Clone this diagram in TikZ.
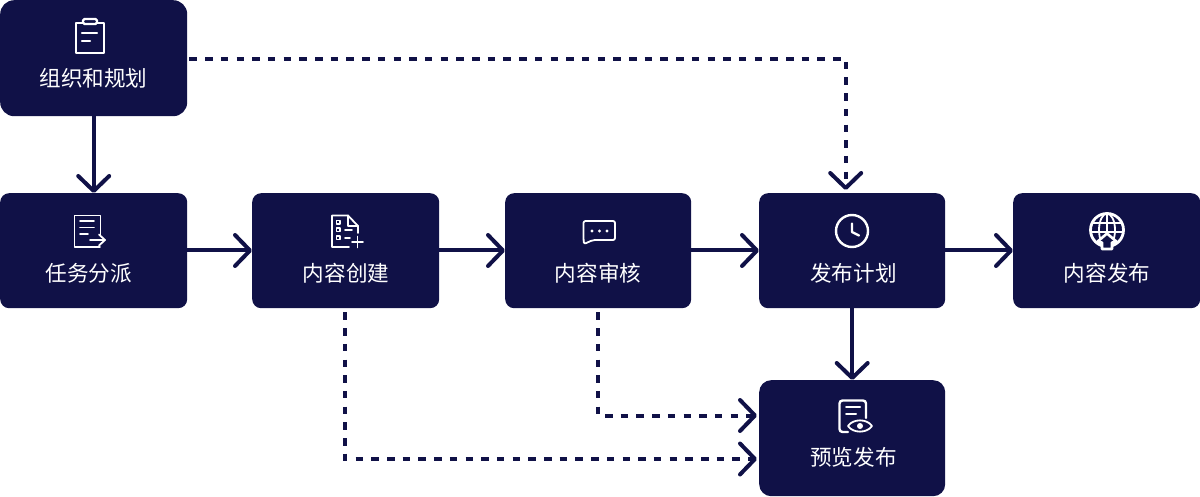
\documentclass[tikz,border=0pt]{standalone}
\usepackage{fontspec}
\setmainfont{Noto Sans CJK SC}
\usetikzlibrary{arrows.meta,calc}
\definecolor{navy}{HTML}{101147}
\tikzset{
  x=1pt,y=-1pt,
  box/.style={fill=navy,draw=none,rounded corners=#1,inner sep=0pt,anchor=north west},
  box/.default=9pt,
  lbl/.style={text=white,inner sep=0pt,font=\fontsize{21.6}{21.6}\selectfont},
  link/.style={draw=navy,line width=4pt,-{Straight Barb[length=15pt,width=31pt,line width=4pt,round]}},
  dlink/.style={link,line width=4pt,dash pattern=on 7.5pt off 8.2pt},
  ico/.style={draw=white,line width=1.8pt,line cap=round,line join=round},
  icob/.style={draw=white,line width=2.4pt,line cap=round,line join=round},
}
\begin{document}
\begin{tikzpicture}
\useasboundingbox (0,0) rectangle (1200,497);
% boxes
\node[box=14pt,minimum width=187pt,minimum height=116pt] (org) at (0,0) {};
\node[box,minimum width=187pt,minimum height=115pt] (task) at (0,193) {};
\node[box,minimum width=187pt,minimum height=115pt] (create) at (252,193) {};
\node[box,minimum width=186pt,minimum height=115pt] (review) at (505,193) {};
\node[box,minimum width=186pt,minimum height=115pt] (plan) at (759,193) {};
\node[box,minimum width=187pt,minimum height=115pt] (pub) at (1013,193) {};
\node[box=12pt,minimum width=186pt,minimum height=116pt] (prev) at (759,380) {};
% labels
\node[lbl] (lorg) at (93.5,78.5) {组织和规划};
\node[lbl] (ltask) at (89,273.5) {任务分派};
\node[lbl] (lcreate) at (346,273.5) {内容创建};
\node[lbl] (lreview) at (598,273.5) {内容审核};
\node[lbl] (lplan) at (853.5,273.5) {发布计划};
\node[lbl] (lpub) at (1107,273.5) {内容发布};
\node[lbl] (lprev) at (853.5,457.5) {预览发布};
% connector ends
\coordinate (plantop) at ($(plan.north)+(-6.5,-3)$);
\coordinate (createout) at ($(create.south)+(-0.5,0)$);
\coordinate (reviewout) at (review.south);
\coordinate (previn1) at ($(prev.north west)+(-2,35.5)$);
\coordinate (previn2) at ($(prev.north west)+(-2,79)$);
\coordinate (orgout) at (org.east);
% solid connectors
\draw[link] (org.south) -- (task.north);
\draw[link] (task.east |- 0,250.5) -- (create.west |- 0,250.5);
\draw[link] (create.east |- 0,250.5) -- (review.west |- 0,250.5);
\draw[link] (review.east |- 0,250.5) -- (plan.west |- 0,250.5);
\draw[link] (plan.east |- 0,250.5) -- (pub.west |- 0,250.5);
\draw[link] (plan.south) -- (prev.north);
% dashed connectors
\draw[dlink] ($(orgout)+(2,0.5)$) -| (plantop);
\draw[dlink] ($(createout)+(0,4)$) |- (previn2);
\draw[dlink] ($(reviewout)+(0,4)$) |- (previn1);
% clipboard icon
\draw[icob] (83,23) -- (76,23) -- (76,53) -- (104,53) -- (104,23) -- (97,23);
\draw[icob,rounded corners=1.5pt] (83,19) rectangle (97,24);
\draw[icob] (82,33) -- (97,33) (82,41) -- (90,41);
% task icon
\draw[ico] (100.5,235) -- (100.5,215.5) -- (74.5,215.5) -- (74.5,247) -- (100,247);
\draw[ico] (80,221) -- (94,221) (80,227.5) -- (94,227.5) (80,234) -- (88,234);
\draw[ico] (90,240) -- (105,240) (99,234.5) -- (105,240) -- (99,245.5);
% create icon
\draw[ico] (358,233) -- (358,226) -- (348,215.5) -- (332,215.5) -- (332,247) -- (349,247);
\draw[ico] (348,215.5) -- (348,226) -- (358,226);
\draw[ico] (336.5,220.5) rectangle (340,224) (336.5,228) rectangle (340,231.5) (336.5,236) rectangle (340,239.5);
\draw[ico] (345,230) -- (352,230) (345,238) -- (350,238);
\draw[ico] (352,242) -- (363,242) (357.5,236.5) -- (357.5,247.5);
% chat icon
\draw[ico,rounded corners=2pt] (583.5,221) -- (615,221) -- (615,240) -- (593,240) -- (584,244) -- (583.5,240) -- cycle;
\fill[white] (592,231) circle (1.6pt) (599.5,231) circle (1.6pt) (607,231) circle (1.6pt);
% clock icon
\draw[icob] (852,231) circle (16pt);
\draw[icob] (852,223.5) -- (852,232) -- (859,235.5);
% globe icon
\draw[icob,line width=2.8pt] (1107,230) circle (16.5pt);
\draw[ico] (1107,230) ellipse (8pt and 16.5pt);
\draw[ico] (1107,213.5) -- (1107,233) (1092,223) -- (1122,223) (1091,232) -- (1123,232);
\draw[icob,line width=2.6pt,fill=navy,miter limit=4] (1107,233.5) -- (1096.5,242.5) -- (1102,242.5) -- (1102,249) -- (1112,249) -- (1112,242.5) -- (1117.5,242.5) -- cycle;
% preview icon
\draw[icob,rounded corners=3pt] (866,418) -- (866,400.5) -- (839.5,400.5) -- (839.5,432) -- (848,432);
\draw[ico,line width=2pt] (846,407) -- (860,407) (846,414) -- (856,414);
\draw[ico] (848,426) .. controls (853,418.5) and (867,418.5) .. (872,426) .. controls (867,433.5) and (853,433.5) .. (848,426) -- cycle;
\fill[white] (860,426) circle (3pt);
\end{tikzpicture}
\end{document}
